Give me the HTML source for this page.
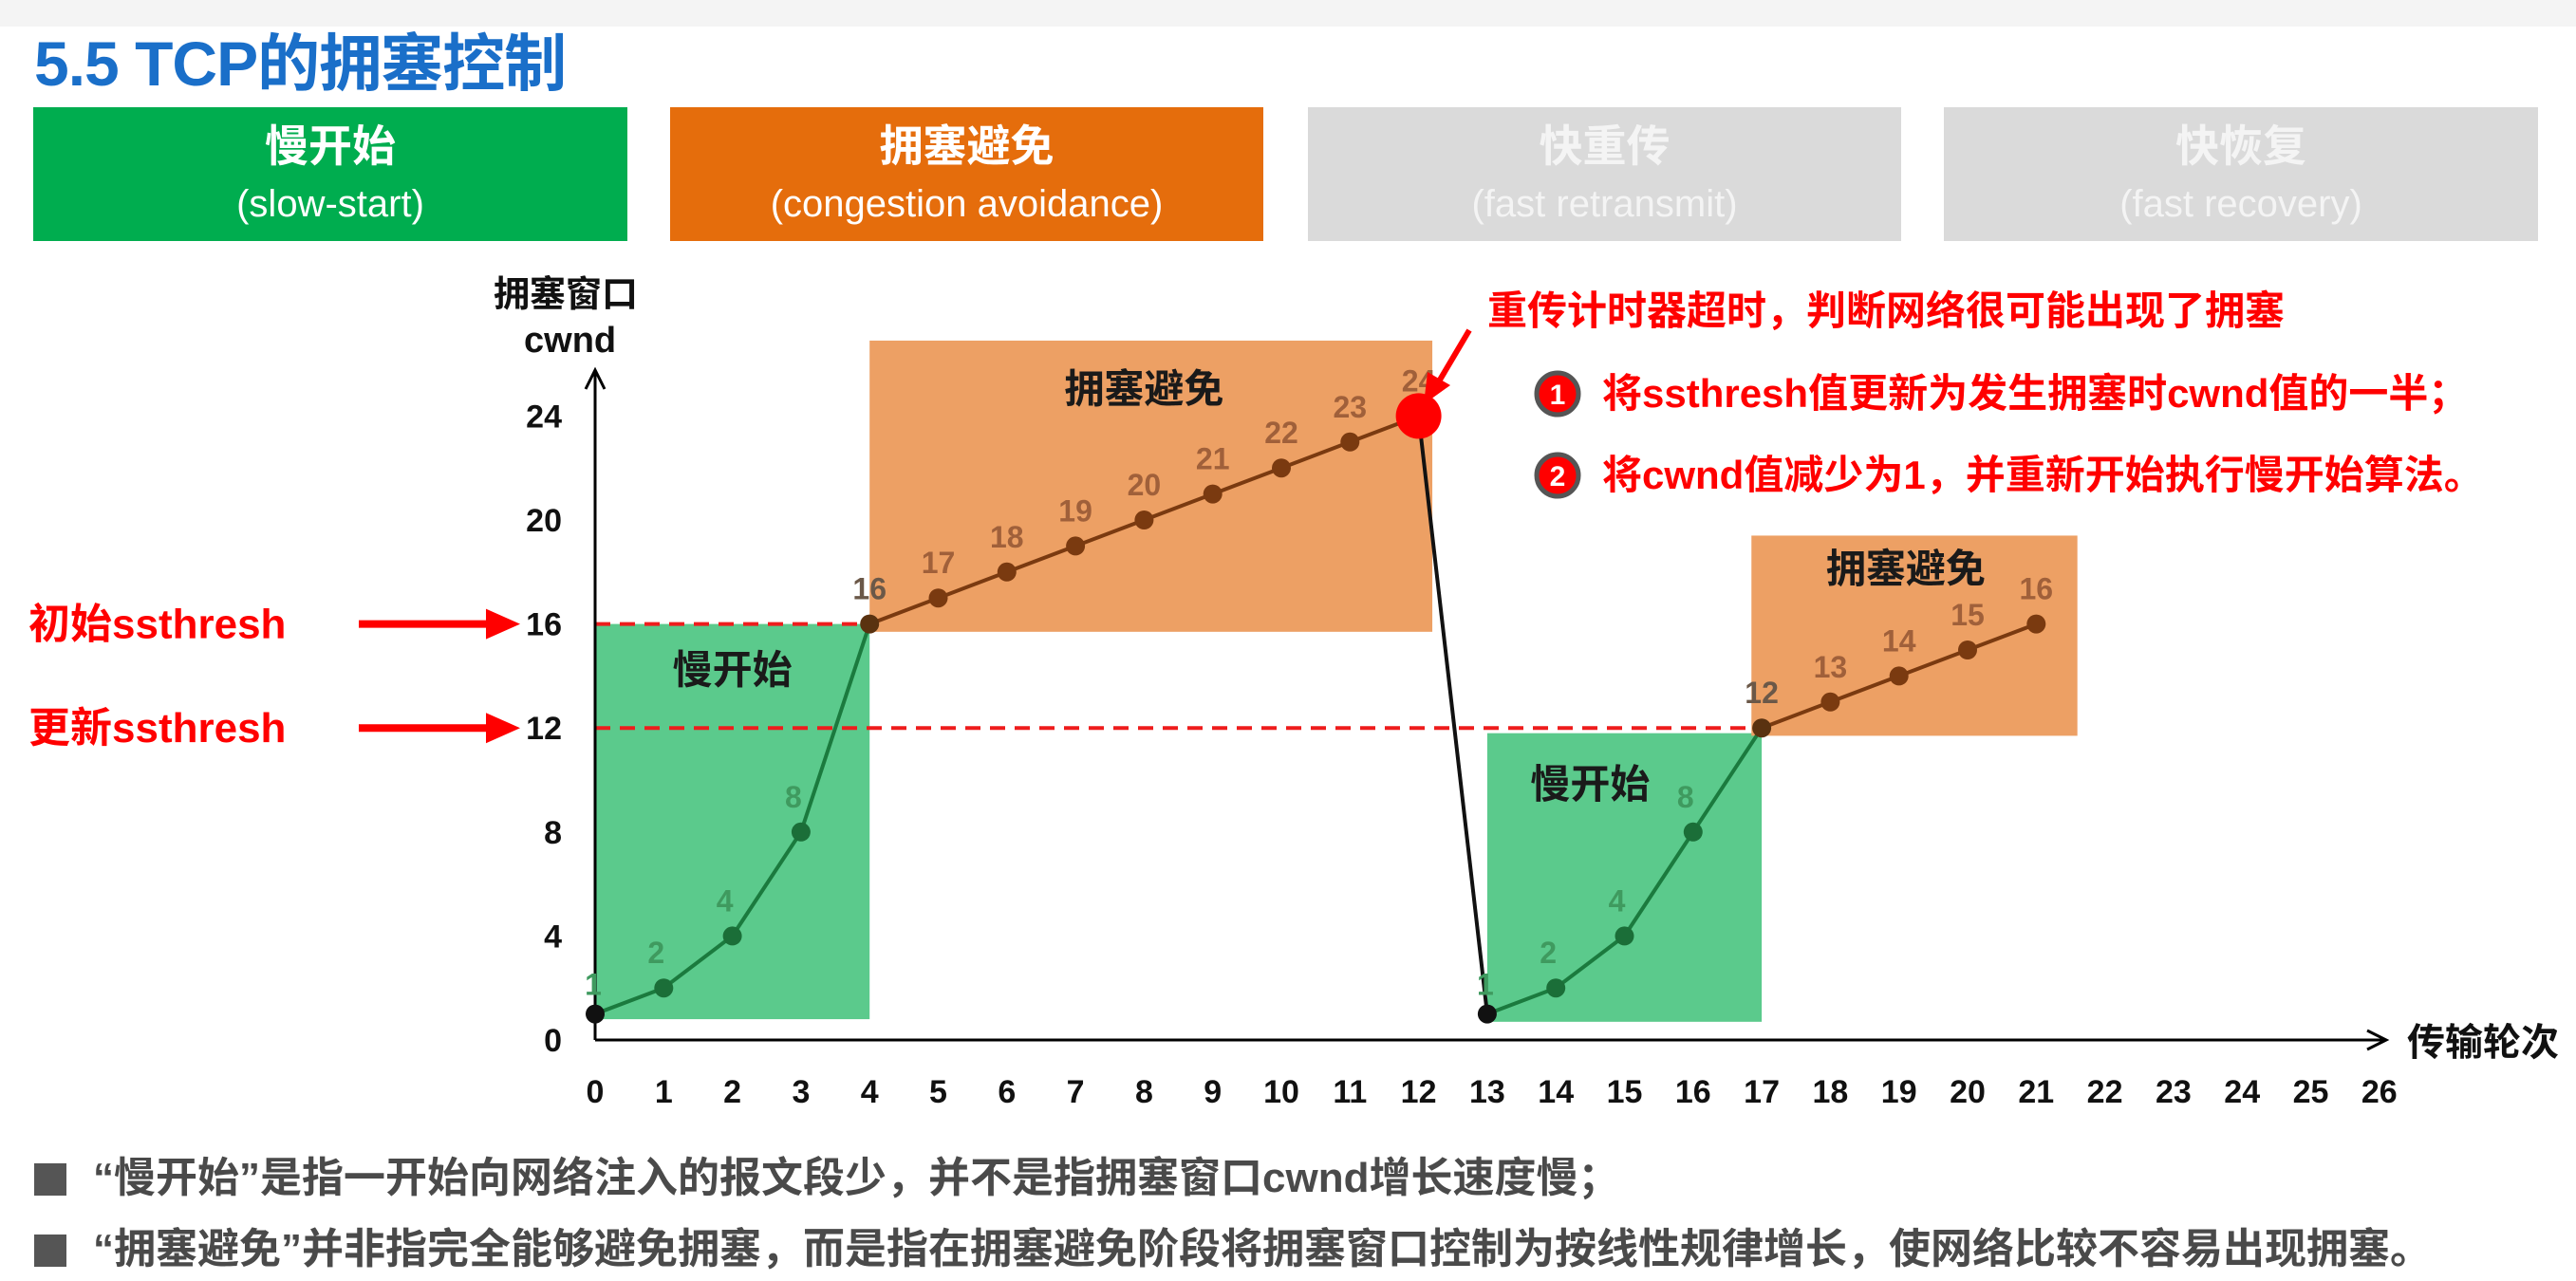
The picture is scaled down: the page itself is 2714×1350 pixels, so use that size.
<!DOCTYPE html>
<html><head><meta charset="utf-8">
<style>
html,body{margin:0;padding:0;background:#fff;}
body{width:2714px;height:1350px;position:relative;overflow:hidden;font-family:"Liberation Sans","Noto Sans CJK SC",sans-serif;}
.topband{position:absolute;left:0;top:0;width:2714px;height:28px;background:#f4f4f4;}
.title{position:absolute;left:36px;top:14px;font-size:66px;font-weight:bold;color:#1a6fc9;letter-spacing:-1px;}
.hbox{position:absolute;top:113px;height:141px;color:#fff;text-align:center;font-weight:bold;}
.hbox .l1{font-size:46px;line-height:46px;margin-top:18px;}
.hbox .l2{font-size:40px;line-height:40px;margin-top:18px;font-weight:normal;}
.bul{position:absolute;left:36px;font-size:44px;font-weight:bold;color:#4a4a4a;white-space:nowrap;}
.bul span.sq{display:inline-block;width:34px;height:34px;background:#555;margin-right:28px;vertical-align:-4px;}
</style></head>
<body>
<div class="topband"></div>
<div class="title">5.5 TCP的拥塞控制</div>
<div class="hbox" style="left:35px;width:626px;background:#00ad4f"><div class="l1">慢开始</div><div class="l2">(slow-start)</div></div>
<div class="hbox" style="left:706px;width:625px;background:#e56d0c"><div class="l1">拥塞避免</div><div class="l2">(congestion avoidance)</div></div>
<div class="hbox" style="left:1378px;width:625px;background:#dadada;color:#f4f4f4"><div class="l1">快重传</div><div class="l2">(fast retransmit)</div></div>
<div class="hbox" style="left:2048px;width:626px;background:#dadada;color:#f4f4f4"><div class="l1">快恢复</div><div class="l2">(fast recovery)</div></div>

<svg id="chart" width="2714" height="1350" style="position:absolute;left:0;top:0"></svg>

<div class="bul" style="top:1205px"><span class="sq"></span>“慢开始”是指一开始向网络注入的报文段少，并不是指拥塞窗口cwnd增长速度慢；</div>
<div class="bul" style="top:1280px"><span class="sq"></span>“拥塞避免”并非指完全能够避免拥塞，而是指在拥塞避免阶段将拥塞窗口控制为按线性规律增长，使网络比较不容易出现拥塞。</div>

<script>
const rounds = [0,1,2,3,4,5,6,7,8,9,10,11,12,13,14,15,16,17,18,19,20,21];
const cwnd = [1,2,4,8,16,17,18,19,20,21,22,23,24,1,2,4,8,12,13,14,15,16];
const phase = ['s','s','s','s','a','a','a','a','a','a','a','a','a','s','s','s','s','a','a','a','a','a'];
const xTicks = [0,1,2,3,4,5,6,7,8,9,10,11,12,13,14,15,16,17,18,19,20,21,22,23,24,25,26];
const yTicks = [0,4,8,12,16,20,24];
const ssthreshInit = 16;
const ssthreshNew = 12;

const NS='http://www.w3.org/2000/svg';
const svg=document.getElementById('chart');
const X=v=>627+v*72.3;
const Y=v=>1096-v*27.4;
function mk(tag,attrs,parent){const e=document.createElementNS(NS,tag);for(const k in attrs)e.setAttribute(k,attrs[k]);(parent||svg).appendChild(e);return e;}
function txt(s,x,y,attrs){const e=mk('text',Object.assign({x:x,y:y,'font-family':'"Liberation Sans","Noto Sans CJK SC",sans-serif','font-weight':'bold'},attrs));e.textContent=s;return e;}

let r;
r=mk('rect',{x:X(0),y:Y(16),width:X(4)-X(0),height:Y(0.8)-Y(16),fill:'#5bca8c'});


r=mk('rect',{x:X(4),y:Y(26.9),width:X(12.2)-X(4),height:Y(15.7)-Y(26.9),fill:'#eda064'});


r=mk('rect',{x:X(13),y:Y(11.8),width:X(17)-X(13),height:Y(0.7)-Y(11.8),fill:'#5bca8c'});


r=mk('rect',{x:X(16.85),y:Y(19.4),width:X(21.6)-X(16.85),height:Y(11.7)-Y(19.4),fill:'#eda064'});



let t;
t=txt('拥塞避免',X(8),Y(24.5),{'font-size':42,'text-anchor':'middle',fill:'#1a1a1a'});


t=txt('慢开始',X(2),Y(13.7),{'font-size':42,'text-anchor':'middle',fill:'#1a1a1a'});


t=txt('拥塞避免',X(19.1),Y(17.6),{'font-size':42,'text-anchor':'middle',fill:'#1a1a1a'});


t=txt('慢开始',X(14.5),Y(9.3),{'font-size':42,'text-anchor':'middle',fill:'#1a1a1a'});



let l;
l=mk('line',{x1:X(0),x2:X(4),y1:Y(ssthreshInit),y2:Y(ssthreshInit),stroke:'#ee1c1c','stroke-width':4,'stroke-dasharray':'16,10'});


l=mk('line',{x1:X(0),x2:X(17),y1:Y(ssthreshNew),y2:Y(ssthreshNew),stroke:'#ee1c1c','stroke-width':4,'stroke-dasharray':'16,10'});



l=mk('line',{x1:X(0),y1:Y(0),x2:X(0),y2:392,stroke:'#000','stroke-width':3});


mk('polyline',{points:`${X(0)-10},410 ${X(0)},390 ${X(0)+10},410`,fill:'none',stroke:'#000','stroke-width':3});
l=mk('line',{x1:X(0),y1:Y(0),x2:2512,y2:Y(0),stroke:'#000','stroke-width':3});


mk('polyline',{points:`2494,${Y(0)-10} 2514,${Y(0)} 2494,${Y(0)+10}`,fill:'none',stroke:'#000','stroke-width':3});

t=txt('拥塞窗口',520,323,{'font-size':38,fill:'#111'});


t=txt('cwnd',552,371,{'font-size':38,fill:'#111'});


t=txt('传输轮次',2536,1112,{'font-size':40,fill:'#111'});



xTicks.forEach(v=>{const e=txt(String(v),X(v),1162,{'font-size':34,'text-anchor':'middle',fill:'#111'});

});
yTicks.forEach(v=>{const e=txt(String(v),592,Y(v)+12,{'font-size':34,'text-anchor':'end',fill:'#111'});

});

for(let i=0;i<rounds.length-1;i++){
  let col = (phase[i]==='s') ? '#1b7a3e' : '#7a3a10';
  if(cwnd[i+1]<cwnd[i]) col='#111';
  const s=mk('line',{x1:X(rounds[i]),y1:Y(cwnd[i]),x2:X(rounds[i+1]),y2:Y(cwnd[i+1]),stroke:col,'stroke-width':4});
  
  
}
for(let i=0;i<rounds.length;i++){
  const inSS = phase[i]==='s';
  const isPeak = (i<rounds.length-1 && cwnd[i+1]<cwnd[i]);
  const first = (i===0 || (i>0 && cwnd[i]<cwnd[i-1]));
  let fill = first ? '#111' : (inSS ? '#1b6e38' : '#7a3a10');
  if(phase[i]==='a' && i>0 && phase[i-1]==='s') fill='#5a3210';
  const p=mk('circle',{cx:X(rounds[i]),cy:Y(cwnd[i]),r:isPeak?24:10,fill:isPeak?'#f00':fill});
  
  
  const lc = inSS ? '#3f9a5f' : '#a0603a';
  const lab=txt(String(cwnd[i]),X(rounds[i])+(first?-2:(inSS?-8:0)),Y(cwnd[i])-(first?20:26),{'font-size':32,'text-anchor':'middle',fill:(phase[i]==='a'&&i>0&&phase[i-1]==='s')?'#6b5848':lc});
  
  
}

function arrow(y,label,name){
  const tt=txt(label,30,y+15,{'font-size':44,fill:'#f00'});
  
  
  const a=mk('line',{x1:378,y1:y,x2:520,y2:y,stroke:'#f00','stroke-width':8});
  
  
  mk('polygon',{points:`512,${y-16} 548,${y} 512,${y+16}`,fill:'#f00'});
}
arrow(Y(ssthreshInit),'初始ssthresh','initial-ssthresh');
arrow(Y(ssthreshNew),'更新ssthresh','updated-ssthresh');

t=txt('重传计时器超时，判断网络很可能出现了拥塞',1567,342,{'font-size':42,fill:'#f00'});


l=mk('line',{x1:1548,y1:348,x2:1516,y2:402,stroke:'#f00','stroke-width':6});


mk('polygon',{points:`1500,426 1504,392 1528,406`,fill:'#f00'});
function step(n,y,s,name){
  const c=mk('circle',{cx:1641,cy:y,r:22,fill:'#f00',stroke:'#555','stroke-width':5});
  
  
  const nn=txt(n,1641,y+11,{'font-size':30,'text-anchor':'middle',fill:'#fff'});
  
  
  const tx=txt(s,1688,y+14,{'font-size':42,fill:'#f00'});
  
  
}
step('1',415,'将ssthresh值更新为发生拥塞时cwnd值的一半；','step-1');
step('2',501,'将cwnd值减少为1，并重新开始执行慢开始算法。','step-2');
</script>
</body></html>
